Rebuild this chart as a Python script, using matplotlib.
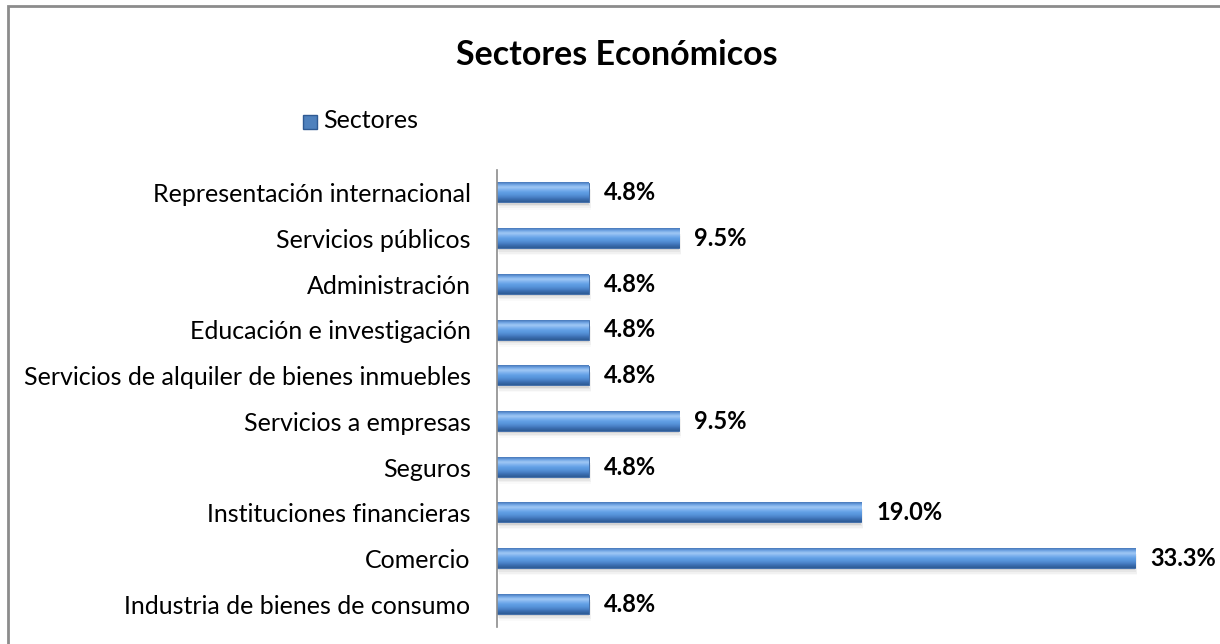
import matplotlib.pyplot as plt
import numpy as np
from matplotlib.patches import Rectangle
from matplotlib.colors import LinearSegmentedColormap

plt.rcParams['font.family'] = ['Lato', 'DejaVu Sans']

# sectores de abajo hacia arriba
sectores = ['Industria de bienes de consumo', 'Comercio', 'Instituciones financieras',
            'Seguros', 'Servicios a empresas', 'Servicios de alquiler de bienes inmuebles',
            'Educación e investigación', 'Administración', 'Servicios públicos',
            'Representación internacional']
valores = [4.8, 33.3, 19.0, 4.8, 9.5, 4.8, 4.8, 4.8, 9.5, 4.8]
etiquetas = ['4.8%', '33.3%', '19.0%', '4.8%', '9.5%', '4.8%', '4.8%', '4.8%', '9.5%', '4.8%']

fig = plt.figure(figsize=(12.2, 6.44), dpi=100)

# marco del grafico
fig.patches.append(Rectangle((8 / 1220, -0.05), 1.1, 1 - 6 / 644 + 0.05,
                             transform=fig.transFigure, fill=False,
                             edgecolor='#8c8c8c', linewidth=2))

ax = fig.add_axes([497 / 1220, 17 / 644, 700 / 1220, 457 / 644])
y = np.arange(len(sectores))
alto = 0.42

# sombra suave
for k, a in enumerate([0.14, 0.09, 0.06, 0.03]):
    ax.barh(y - 0.05 - 0.035 * k, valores, height=alto, left=0.04 * k,
            color='#707070', alpha=a, zorder=1, linewidth=0)
barras = ax.barh(y, valores, height=alto, color='#4f81bd', zorder=2,
                 edgecolor='#3a68a6', linewidth=0.6)

degradado = LinearSegmentedColormap.from_list(
    'cil', ['#2d5b95', '#3a6cae', '#4b83c9', '#5895dc', '#62a0e6', '#7fb3ef',
            '#a3caf5', '#72a6e6', '#4677b8'])
grad = np.linspace(0, 1, 64).reshape(-1, 1)
for b in barras:
    x0, y0 = b.get_x(), b.get_y()
    w, h = b.get_width(), b.get_height()
    ax.imshow(grad, extent=(x0, x0 + w, y0, y0 + h), origin='lower',
              cmap=degradado, aspect='auto', zorder=3, interpolation='bicubic')

for yy, v, t in zip(y, valores, etiquetas):
    ax.text(v + 0.8, yy, t, va='center', ha='left', fontsize=17, fontweight='bold')

ax.set_xlim(0, 700 / 19.16)
ax.set_ylim(-0.5, len(sectores) - 0.5)
ax.set_yticks(y)
ax.set_yticklabels(sectores, fontsize=18)
ax.tick_params(axis='y', length=0, pad=19)
ax.set_xticks([])
for s in ['top', 'right', 'bottom']:
    ax.spines[s].set_visible(False)
ax.spines['left'].set_color('#8c8c8c')
ax.spines['left'].set_linewidth(1.2)
ax.spines['left'].set_zorder(5)

fig.text(617 / 1220, 1 - 55 / 644, 'Sectores Económicos', ha='center', va='center',
         fontsize=24.5, fontweight='bold')

# leyenda
fig.patches.append(Rectangle((303 / 1220, 1 - 129 / 644), 14 / 1220, 14 / 644,
                             transform=fig.transFigure, facecolor='#4f81bd',
                             edgecolor='#2f5a93'))
fig.text(323 / 1220, 1 - 121 / 644, 'Sectores', ha='left', va='center', fontsize=18)

fig.savefig('out.png', dpi=100)
